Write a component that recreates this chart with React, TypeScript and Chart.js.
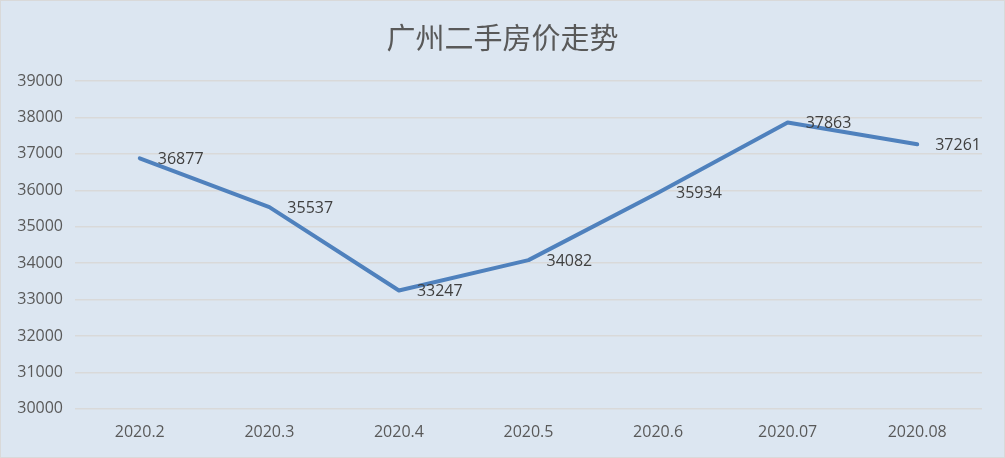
import { useEffect, useRef } from 'react';
import { Chart, registerables, Plugin } from 'chart.js';

Chart.register(...registerables);

const months = ['2020.2', '2020.3', '2020.4', '2020.5', '2020.6', '2020.07', '2020.08'];
const prices = [36877, 35537, 33247, 34082, 35934, 37863, 37261];
const yMin = 30000;
const yMax = 39000;
const yStep = 1000;
const chartTitle = '广州二手房价走势';

const FONT = "'Open Sans', 'Noto Sans', sans-serif";

// draws each value to the right of its point
const pointLabels: Plugin<'line'> = {
  id: 'pointLabels',
  afterDatasetsDraw(chart) {
    const ctx = chart.ctx;
    const meta = chart.getDatasetMeta(0);
    ctx.save();
    ctx.font = `16px ${FONT}`;
    ctx.fillStyle = '#404040';
    ctx.textAlign = 'left';
    ctx.textBaseline = 'middle';
    meta.data.forEach((pt, i) => {
      ctx.fillText(String(prices[i]), pt.x + 18, pt.y + 1);
    });
    ctx.restore();
  },
};

// title centred on the whole canvas rather than on the padded box
const centredTitle: Plugin<'line'> = {
  id: 'centredTitle',
  afterDraw(chart) {
    const ctx = chart.ctx;
    ctx.save();
    ctx.font = "29px 'Noto Sans CJK SC', sans-serif";
    ctx.fillStyle = '#595959';
    ctx.textAlign = 'center';
    ctx.textBaseline = 'middle';
    ctx.fillText(chartTitle, chart.width / 2, 37);
    ctx.restore();
  },
};

export default function App() {
  const canvasRef = useRef<HTMLCanvasElement>(null);
  const chartRef = useRef<Chart | null>(null);

  useEffect(() => {
    document.body.style.margin = '0';
    if (!canvasRef.current) return;
    const ctx = canvasRef.current.getContext('2d');
    if (!ctx) return;
    if (chartRef.current) chartRef.current.destroy();

    chartRef.current = new Chart(ctx, {
      type: 'line',
      data: {
        labels: months,
        datasets: [
          {
            label: '广州二手房价',
            data: prices,
            borderColor: '#4f81bd',
            borderWidth: 4,
            pointRadius: 0,
            tension: 0,
            borderCapStyle: 'round',
            borderJoinStyle: 'round',
          },
        ],
      },
      plugins: [pointLabels, centredTitle],
      options: {
        animation: false,
        responsive: false,
        layout: { padding: { left: 0, right: 22, top: 80, bottom: 9 } },
        plugins: {
          legend: { display: false },
          tooltip: { enabled: false },
          title: { display: false },
        },
        scales: {
          x: {
            offset: true,
            grid: { display: false },
            border: { display: false },
            ticks: { color: '#595959', font: { family: FONT, size: 16 }, padding: 6 },
          },
          y: {
            min: yMin,
            max: yMax,
            afterFit: (s) => {
              s.width = 74;
            },
            grid: { color: '#d9d9d9', lineWidth: 1.5, drawTicks: false },
            border: { display: false },
            ticks: {
              stepSize: yStep,
              color: '#595959',
              font: { family: FONT, size: 16 },
              padding: 12,
              callback: (v) => String(v),
            },
          },
        },
      },
    });

    return () => {
      if (chartRef.current) {
        chartRef.current.destroy();
        chartRef.current = null;
      }
    };
  }, []);

  return (
    <div
      style={{
        width: 1005,
        height: 458,
        boxSizing: 'border-box',
        border: '1px solid #d9d9d9',
        background: '#dce6f1',
      }}
    >
      <canvas ref={canvasRef} width={1003} height={456} style={{ display: 'block' }} />
    </div>
  );
}
